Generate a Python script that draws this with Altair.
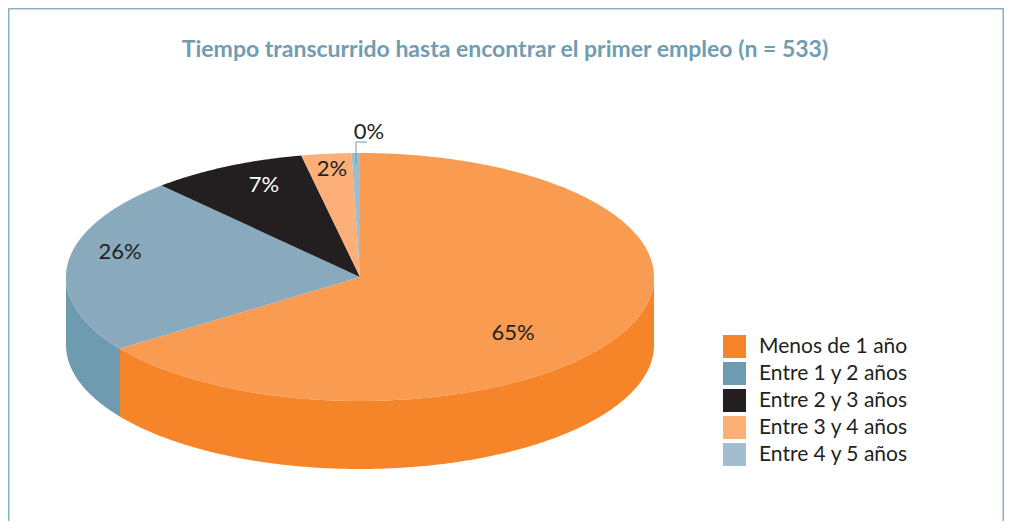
import math
import altair as alt

# Data
categories = ["Menos de 1 año", "Entre 1 y 2 años", "Entre 2 y 3 años", "Entre 3 y 4 años", "Entre 4 y 5 años"]
drawn_shares = [65.2, 23.0, 8.6, 2.74, 0.46]
labels = ["65%", "26%", "7%", "2%", "0%"]
legend_colors = ["#F68428", "#6E9BAF", "#231F20", "#FDAF78", "#A1BDCE"]
top_colors = ["#F99B50", "#88AABC", "#231F20", "#FCAF79", "#9EBCCF"]
label_colors = ["#231F20", "#231F20", "#FFFFFF", "#231F20", "#231F20"]
label_dx = [153, -240, -96, -28, 9]
label_dy = [56, -25, -92, -108, -145]

RX, RY, DEPTH = 294, 124, 68
CX, CY = 360, 277
FONT = "Lato"


def pt(turn, dy=0):
    t = 2 * math.pi * turn
    return [RX * math.sin(t), -RY * math.cos(t) + dy]


def arc(a, b, dy=0):
    n = max(2, int(abs(b - a) * 720))
    return [pt(a + (b - a) * i / n, dy) for i in range(n + 1)]


total = sum(drawn_shares)
tops, walls, a = [], [], 0.0
for cat, share, col in zip(categories, drawn_shares, top_colors):
    b = a + share / total
    ring = [[0, 0]] + arc(a, b) + [[0, 0]]
    tops.append({"type": "Feature", "geometry": {"type": "Polygon", "coordinates": [ring]},
                 "properties": {"top": col}})
    lo, hi = max(a, 0.25), min(b, 0.75)
    if hi > lo:
        wall = arc(lo, hi) + arc(hi, lo, DEPTH)
        wall.append(wall[0])
        walls.append({"type": "Feature", "geometry": {"type": "Polygon", "coordinates": [wall]},
                      "properties": {"cat": cat}})
    a = b

leader = [{"type": "Feature", "properties": {},
           "geometry": {"type": "LineString", "coordinates": [[-4, -112], [-4, -135], [7, -135]]}}]
frame = [{"type": "Feature", "properties": {},
          "geometry": {"type": "LineString",
                       "coordinates": [[-351.25, 260], [-351.25, -268.25], [643.25, -268.25], [643.25, 260]]}}]

proj = alt.Projection(type="identity", scale=1, translate=[CX - 8, CY - 8])

frame_layer = alt.Chart(alt.Data(values=frame)).mark_geoshape(
    filled=False, stroke="#8AB0C4", strokeWidth=1.5).project(**proj.to_dict())

wall_layer = alt.Chart(alt.Data(values=walls)).mark_geoshape(strokeWidth=0).encode(
    color=alt.Color("properties.cat:N",
                    scale=alt.Scale(domain=categories, range=legend_colors),
                    sort=categories,
                    legend=alt.Legend(
                        title=None, orient="none", legendX=715, legendY=327,
                        symbolType="square", symbolSize=529, symbolStrokeWidth=0,
                        symbolOpacity=1, labelFont=FONT, labelFontSize=21, labelColor="#231F20",
                        labelOffset=13, rowPadding=4, labelLimit=300))
).project(**proj.to_dict())

top_layer = alt.Chart(alt.Data(values=tops)).mark_geoshape(strokeWidth=0).encode(
    color=alt.Color("properties.top:N", scale=None)
).project(**proj.to_dict())

leader_layer = alt.Chart(alt.Data(values=leader)).mark_geoshape(
    filled=False, stroke="#6E9BAF", strokeWidth=1).project(**proj.to_dict())

text_rows = [{"t": t, "lon": x, "lat": y, "c": c}
             for t, x, y, c in zip(labels, label_dx, label_dy, label_colors)]
text_layer = alt.Chart(alt.Data(values=text_rows)).mark_text(
    font=FONT, fontSize=22, align="center", baseline="middle").encode(
    longitude="lon:Q", latitude="lat:Q", text="t:N", color=alt.Color("c:N", scale=None)
).project(**proj.to_dict())

chart = alt.layer(frame_layer, wall_layer, top_layer, leader_layer, text_layer).resolve_scale(color="independent").properties(
    width=996, height=513,
    padding=0,
    autosize=alt.AutoSizeParams(type="none"),
    title=alt.TitleParams(
        "Tiempo transcurrido hasta encontrar el primer empleo (n = 533)",
        font=FONT, fontSize=23, fontWeight="bold", color="#6F9DB2",
        anchor="middle", frame="group", offset=0, dy=65, dx=-1, baseline="middle"),
).configure_view(stroke=None)

chart.save("out.html", embed_options={"renderer": "svg", "actions": False})
